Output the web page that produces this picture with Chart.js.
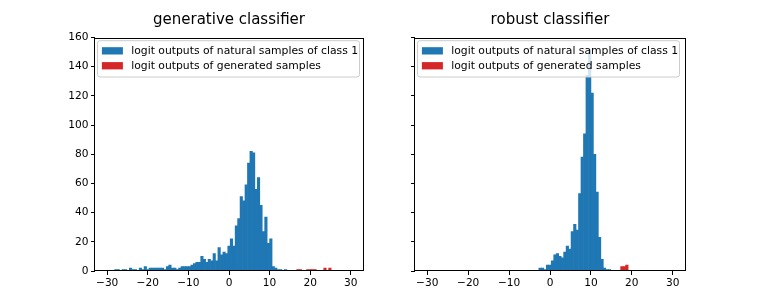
<!DOCTYPE html>
<html lang="en">
	<head>
		<meta http-equiv="content-type" content="text/html; charset=UTF-8">
		<title>Logit histograms - generative vs robust classifier</title>
		<script src="https://cdn.jsdelivr.net/npm/chart.js@4.4.0/dist/chart.umd.min.js"></script>
		<style>
			body { margin: 0; background: #ffffff; }
			#wrap { position: relative; width: 761px; height: 305px; }
			#wrap canvas { position: absolute; top: 0px; }
		</style>
	</head>
	<body>
		<div id="wrap">
			<canvas id="left-chart" width="380" height="305" style="left:0px;"></canvas>
			<canvas id="right-chart" width="381" height="305" style="left:380px;"></canvas>
		</div>
		<script>
			// histogram bins: 99 equal bins from -30 to 30
			var binLow = -30;
			var binHigh = 30;
			var binCount = 99;

			var xTicks = [-30, -20, -10, 0, 10, 20, 30];
			var yTicks = [0, 20, 40, 60, 80, 100, 120, 140, 160];

			var titles = ["generative classifier", "robust classifier"];
			var seriesLabels = ["logit outputs of natural samples of class 1", "logit outputs of generated samples"];
			var seriesColors = ["#1f77b4", "#d62728"];

			// counts per bin, each list starts at the bin index given next to it
			var genNaturalFirst = 3;
			var genNatural = [
				1, 1, 0, 1, 1, 0, 2, 1, 1, 0,
				2, 1, 3, 1, 2, 2, 2, 2, 2, 2,
				1, 3, 4, 2, 2, 1, 2, 3, 3, 3,
				3, 4, 5, 6, 6, 10, 8, 6, 8, 7,
				12, 7, 16, 11, 13, 12, 17, 22, 17, 31,
				36, 51, 48, 59, 74, 82, 81, 56, 64, 45,
				27, 37, 19, 22, 3, 2, 1, 1, 0, 1
			];
			var genGeneratedFirst = 77;
			var genGenerated = [1, 1, 0, 0, 1, 1, 1, 1, 0, 0, 0, 2, 0, 2];

			var robNaturalFirst = 45;
			var robNatural = [
				2, 2, 1, 4, 4, 7, 11, 12, 10, 9,
				13, 17, 15, 27, 32, 28, 53, 78, 94, 134,
				152, 122, 80, 54, 23, 8, 2, 1, 1
			];
			var robGeneratedFirst = 78;
			var robGenerated = [3, 3, 4];

			var baseFont = { family: "'DejaVu Sans', sans-serif", size: 10.6 };

			function binCenter(i) {
				var w = (binHigh - binLow) / binCount;
				return binLow + (i + 0.5) * w;
			}

			function toPoints(first, counts) {
				var pts = [];
				for (var n = 0; n < counts.length; n++) {
					pts.push({ x: binCenter(first + n), y: counts[n] });
				}
				return pts;
			}

			function tickText(v) {
				return v < 0 ? "\u2212" + Math.abs(v) : String(v);
			}

			// frame, title and matplotlib-like legend box
			var axesDecor = {
				id: "axesDecor",
				afterDatasetsDraw: function (chart, args, opts) {
					var ctx = chart.ctx;
					var a = chart.chartArea;
					var bx = a.left + 2.5, by = a.top + 3.2, bw = 262, bh = 36.3, r = 2.5;
					ctx.save();
					ctx.beginPath();
					ctx.moveTo(bx + r, by);
					ctx.arcTo(bx + bw, by, bx + bw, by + bh, r);
					ctx.arcTo(bx + bw, by + bh, bx, by + bh, r);
					ctx.arcTo(bx, by + bh, bx, by, r);
					ctx.arcTo(bx, by, bx + bw, by, r);
					ctx.closePath();
					ctx.fillStyle = "rgba(255,255,255,0.8)";
					ctx.fill();
					ctx.strokeStyle = "#cccccc";
					ctx.lineWidth = 1;
					ctx.stroke();
					ctx.font = "10.8px " + baseFont.family;
					ctx.textBaseline = "middle";
					ctx.textAlign = "left";
					for (var i = 0; i < seriesLabels.length; i++) {
						var cy = by + 10.1 + i * 14.9;
						ctx.fillStyle = seriesColors[i];
						ctx.fillRect(bx + 4.4, cy - 3.6, 21, 7.3);
						ctx.fillStyle = "#000000";
						ctx.fillText(seriesLabels[i], bx + 33.7, cy + 0.5);
					}
					ctx.restore();
				},
				afterDraw: function (chart, args, opts) {
					var ctx = chart.ctx;
					var a = chart.chartArea;
					ctx.save();
					ctx.strokeStyle = "#000000";
					ctx.lineWidth = 1;
					ctx.strokeRect(Math.round(a.left) - 0.5, Math.round(a.top) + 0.5,
						Math.round(a.right) - Math.round(a.left) + 1, Math.round(a.bottom) - Math.round(a.top) - 1);
					ctx.fillStyle = "#000000";
					ctx.font = "15px " + baseFont.family;
					ctx.textAlign = "center";
					ctx.textBaseline = "alphabetic";
					ctx.fillText(opts.title, (a.left + a.right) / 2, 24);
					ctx.restore();
				}
			};

			function makeChart(canvasId, title, natFirst, nat, genFirst, gen, yAxisWidth, padRight, showYLabels) {
				return new Chart(document.getElementById(canvasId), {
					type: "bar",
					data: {
						datasets: [
							{
								label: seriesLabels[0],
								data: toPoints(natFirst, nat),
								backgroundColor: seriesColors[0],
								borderWidth: 0,
								barPercentage: 1,
								categoryPercentage: 1,
								grouped: false
							},
							{
								label: seriesLabels[1],
								data: toPoints(genFirst, gen),
								backgroundColor: seriesColors[1],
								borderWidth: 0,
								barPercentage: 1,
								categoryPercentage: 1,
								grouped: false
							}
						]
					},
					options: {
						responsive: false,
						animation: false,
						devicePixelRatio: 1,
						layout: { padding: { left: 0, right: padRight, top: 37.5, bottom: 0 } },
						plugins: {
							legend: { display: false },
							tooltip: { enabled: false },
							title: { display: false },
							axesDecor: { title: title }
						},
						scales: {
							x: {
								type: "linear",
								min: -33,
								max: 33,
								offset: false,
								afterBuildTicks: function (s) { s.ticks = xTicks.map(function (v) { return { value: v }; }); },
								ticks: { font: baseFont, color: "#000000", padding: 2, maxRotation: 0, autoSkip: false, callback: tickText },
								grid: { offset: false, drawOnChartArea: false, drawTicks: true, tickLength: 4, color: "#000000" },
								border: { display: false },
								afterFit: function (s) { s.height = 34; }
							},
							y: {
								min: 0,
								max: 160,
								afterBuildTicks: function (s) { s.ticks = yTicks.map(function (v) { return { value: v }; }); },
								ticks: { display: showYLabels, font: baseFont, color: "#000000", padding: 2.5, callback: tickText },
								grid: { drawOnChartArea: false, drawTicks: true, tickLength: 4, color: "#000000" },
								border: { display: false },
								afterFit: function (s) { s.width = yAxisWidth; }
							}
						}
					},
					plugins: [axesDecor]
				});
			}

			makeChart("left-chart", titles[0], genNaturalFirst, genNatural, genGeneratedFirst, genGenerated, 95, 17, true);
			makeChart("right-chart", titles[1], robNaturalFirst, robNatural, robGeneratedFirst, robGenerated, 35, 76, false);
		</script>
	</body>
</html>
